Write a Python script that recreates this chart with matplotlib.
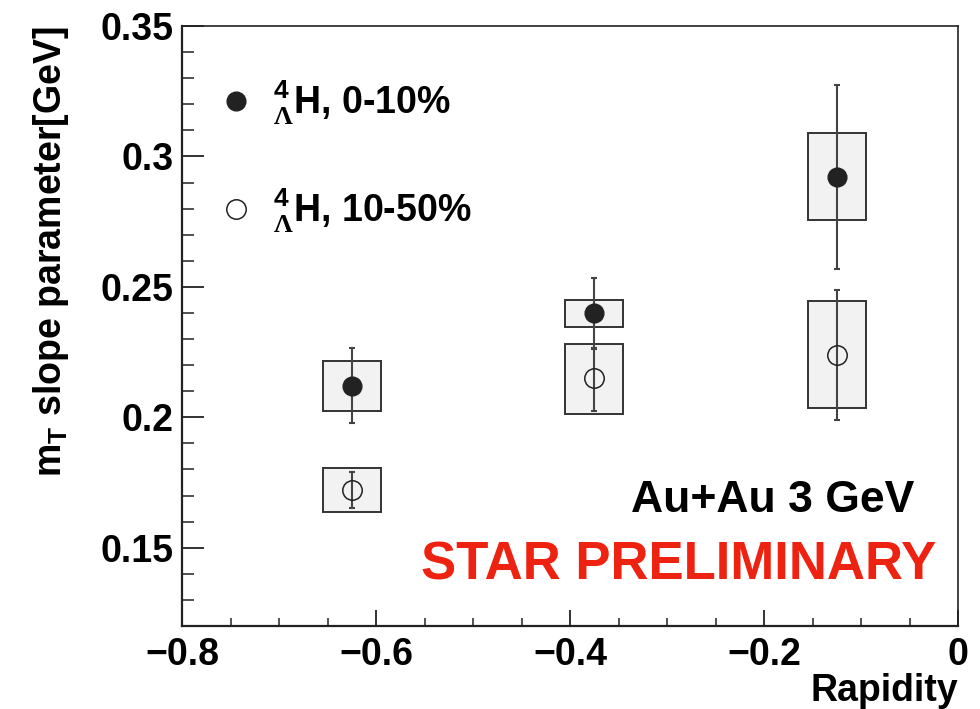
import matplotlib
matplotlib.use("Agg")
import matplotlib.pyplot as plt
from matplotlib.lines import Line2D
import numpy as np

plt.rcParams['font.family'] = ['Liberation Sans', 'DejaVu Sans']
plt.rcParams['font.weight'] = 'bold'
plt.rcParams['axes.labelweight'] = 'bold'
plt.rcParams['mathtext.fontset'] = 'custom'
plt.rcParams['mathtext.rm'] = 'Liberation Sans:bold'
plt.rcParams['mathtext.it'] = 'Liberation Sans:bold'
plt.rcParams['mathtext.bf'] = 'Liberation Sans:bold'
plt.rcParams['mathtext.sf'] = 'Liberation Serif'
plt.rcParams['mathtext.default'] = 'rm'

# ---- data ----
rapidity = [-0.625, -0.375, -0.125]

c010_val = [0.212, 0.240, 0.292]
c010_stat_lo = [0.198, 0.2266, 0.257]
c010_stat_hi = [0.2265, 0.2535, 0.3274]
c010_sys_lo = [0.2026, 0.2346, 0.2757]
c010_sys_hi = [0.2215, 0.2449, 0.3088]

c1050_val = [0.172, 0.215, 0.224]
c1050_stat_lo = [0.1652, 0.2024, 0.199]
c1050_stat_hi = [0.179, 0.2262, 0.2489]
c1050_sys_lo = [0.1638, 0.2013, 0.2036]
c1050_sys_hi = [0.1806, 0.2282, 0.2444]

xticks = [-0.8, -0.6, -0.4, -0.2, 0.0]
xticklabels = ['\u22120.8', '\u22120.6', '\u22120.4', '\u22120.2', '0']
yticks = [0.15, 0.20, 0.25, 0.30, 0.35]
yticklabels = ['0.15', '0.2', '0.25', '0.3', '0.35']

labels = [r'$^{4}_{\mathsf{\Lambda}}$H, 0-10%', r'$^{4}_{\mathsf{\Lambda}}$H, 10-50%']

# ---- figure ----
fig = plt.figure(figsize=(9.8, 7.09), dpi=100)
ax = fig.add_axes([182/980, 1-626/709, (958-182)/980, (626-26)/709])

box_w = 0.06
box_face = '#f2f2f2'
box_edge = '#333333'
err_col = '#444444'

def draw_series(val, slo, shi, ylo, yhi, filled):
    x = np.array(rapidity)
    v = np.array(val)
    ax.bar(x, np.array(yhi) - np.array(ylo), bottom=ylo, width=box_w,
           color=box_face, edgecolor=box_edge, linewidth=1.4, zorder=2)
    yerr = [v - np.array(slo), np.array(shi) - v]
    ax.errorbar(x, v, yerr=yerr, fmt='none', ecolor=err_col, elinewidth=1.5,
                capsize=2.5, capthick=1.5, zorder=3)
    if filled:
        ax.plot(x, v, 'o', ms=13.5, mfc='#222222', mec='#222222', ls='none', zorder=4)
    else:
        ax.plot(x, v, 'o', ms=14, mfc='none', mec='#222222', mew=1.1, ls='none', zorder=4)

draw_series(c010_val, c010_stat_lo, c010_stat_hi, c010_sys_lo, c010_sys_hi, True)
draw_series(c1050_val, c1050_stat_lo, c1050_stat_hi, c1050_sys_lo, c1050_sys_hi, False)

ax.set_xlim(-0.8, 0.0)
ax.set_ylim(0.12, 0.35)
ax.set_xticks(xticks)
ax.set_xticklabels(xticklabels)
ax.set_yticks(yticks)
ax.set_yticklabels(yticklabels)
ax.set_xticks(np.arange(-0.75, 0.0, 0.05).round(3).tolist(), minor=True)
ax.set_yticks(np.arange(0.12, 0.35, 0.01).round(3).tolist(), minor=True)

ax.tick_params(axis='both', which='both', direction='in', top=False, right=False,
               colors='#222222', labelcolor='black', labelsize=27)
ax.tick_params(axis='x', which='major', length=11.5, width=1.3, pad=8)
ax.tick_params(axis='x', which='minor', length=5.8, width=1.1)
ax.tick_params(axis='y', which='major', length=16, width=1.3, pad=6)
ax.tick_params(axis='y', which='minor', length=8.5, width=1.1)
for s in ['left', 'bottom']:
    ax.spines[s].set_linewidth(1.6)
    ax.spines[s].set_color('#222222')
for s in ['top', 'right']:
    ax.spines[s].set_linewidth(1.2)
    ax.spines[s].set_color('#222222')

ax.set_xlabel('Rapidity', fontsize=27, fontweight='bold', loc='right', labelpad=0)
ax.set_ylabel(r'm$_{T}$ slope parameter[GeV]', fontsize=27, fontweight='bold', loc='top')
ax.yaxis.set_label_coords(-0.143, 1.0)

handles = [
    Line2D([], [], marker='o', ls='none', ms=13.5, mfc='#222222', mec='#222222'),
    Line2D([], [], marker='o', ls='none', ms=14, mfc='none', mec='#222222', mew=1.1),
]
leg = ax.legend(handles, labels, loc='upper left', bbox_to_anchor=(0.045, 0.912),
                frameon=False, fontsize=27, handlelength=1.0, handletextpad=0.5,
                labelspacing=1.6, borderpad=0, borderaxespad=0)

ax.text(0.943, 0.19, 'Au+Au 3 GeV', transform=ax.transAxes, ha='right',
        va='baseline', fontsize=32, color='black')
ax.text(0.972, 0.078, 'STAR PRELIMINARY', transform=ax.transAxes, ha='right',
        va='baseline', fontsize=38, color='#ee2211')

fig.savefig('out.png', dpi=100)
